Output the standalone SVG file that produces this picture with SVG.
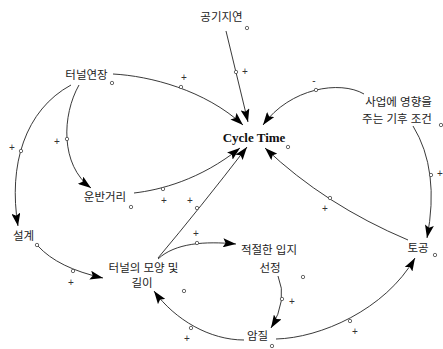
<svg xmlns="http://www.w3.org/2000/svg" width="443" height="349" viewBox="0 0 443 349">
<style>
.k{font-family:"Liberation Sans","Noto Sans CJK KR",sans-serif;font-size:11.5px;fill:#222;text-anchor:middle}
.ct{font-family:"Liberation Serif",serif;font-size:13px;font-weight:bold;fill:#111;text-anchor:middle}
.s{font-family:"Liberation Sans",sans-serif;font-size:10px;fill:#333;text-anchor:middle}
.e{fill:none;stroke:#222;stroke-width:0.9;marker-end:url(#ah)}
.c{fill:#fff;stroke:#444;stroke-width:0.8}
</style>
<defs>
<marker id="ah" markerUnits="userSpaceOnUse" markerWidth="14" markerHeight="9" refX="13" refY="4.5" orient="auto">
<path d="M0,0 L13,4.5 L0,9 L2.5,4.5 z" fill="#000"/>
</marker>
</defs>
<rect width="443" height="349" fill="#fff"/>
<g id="connectors">
<path class="e" d="M226,31 L248,122"/>
<path class="e" d="M113,74 C150,76 205,90 243,125"/>
<path class="e" d="M71,85 C25,110 8,165 18,226"/>
<path class="e" d="M79,85 C62,115 60,165 91,188"/>
<path class="e" d="M134,193 C160,190 200,180 240,148"/>
<path class="e" d="M158,258 Q200,208 247,147"/>
<path class="e" d="M38,246 Q58,268 103,278"/>
<path class="e" d="M158,259 C175,243 205,241 236,244"/>
<path class="e" d="M278,276 Q288,300 271,328"/>
<path class="e" d="M244,340 C210,340 175,320 154,291"/>
<path class="e" d="M276,339 C320,338 385,310 415,258"/>
<path class="e" d="M413,126 Q440,170 427,238"/>
<path class="e" d="M408,240 Q325,205 265,148"/>
<path class="e" d="M364,94 C340,80 290,88 263,125"/>
<g id="link-marks">
<circle class="c" cx="236" cy="72" r="1.7"/>
<circle class="c" cx="181" cy="87" r="1.7"/>
<circle class="c" cx="21" cy="151" r="1.7"/>
<circle class="c" cx="67" cy="139" r="1.7"/>
<circle class="c" cx="163" cy="189" r="1.7"/>
<circle class="c" cx="197" cy="208" r="1.7"/>
<circle class="c" cx="73" cy="271" r="1.7"/>
<circle class="c" cx="197" cy="243" r="1.7"/>
<circle class="c" cx="282" cy="299" r="1.7"/>
<circle class="c" cx="191" cy="328" r="1.7"/>
<circle class="c" cx="350" cy="321" r="1.7"/>
<circle class="c" cx="431" cy="175" r="1.7"/>
<circle class="c" cx="330" cy="198" r="1.7"/>
<circle class="c" cx="316" cy="90" r="1.7"/>
</g>
<g id="polarities">
<text class="s" x="245" y="75">+</text>
<text class="s" x="184" y="81">+</text>
<text class="s" x="12" y="151">+</text>
<text class="s" x="57" y="145">+</text>
<text class="s" x="164" y="204">+</text>
<text class="s" x="190" y="204">+</text>
<text class="s" x="71" y="286">+</text>
<text class="s" x="196" y="237">+</text>
<text class="s" x="292" y="305">+</text>
<text class="s" x="187" y="342">+</text>
<text class="s" x="355" y="335">+</text>
<text class="s" x="440" y="177">+</text>
<text class="s" x="325" y="212">+</text>
<text class="s" x="314" y="84">-</text>
</g>
</g>
<g id="n-gonggi">
<text class="k" x="221.5" y="21">공기지연</text>
<circle class="c" cx="247" cy="28" r="1.7"/>
</g>
<g id="n-tunnel-ext">
<text class="k" x="86.5" y="79">터널연장</text>
<circle class="c" cx="112" cy="83" r="1.7"/>
</g>
<g id="n-cycle">
<text class="ct" x="254" y="142">Cycle Time</text>
<circle class="c" cx="288" cy="147" r="1.7"/>
</g>
<g id="n-weather">
<text class="k" x="398.5" y="106">사업에 영향을</text>
<text class="k" x="397" y="123">주는 기후 조건</text>
<circle class="c" cx="441" cy="125" r="1.7"/>
</g>
<g id="n-haul">
<text class="k" x="105" y="201">운반거리</text>
<circle class="c" cx="131" cy="207" r="1.7"/>
</g>
<g id="n-design">
<text class="k" x="23.5" y="240">설계</text>
<circle class="c" cx="37" cy="245" r="1.7"/>
</g>
<g id="n-shape">
<text class="k" x="143.5" y="272">터널의 모양 및</text>
<text class="k" x="142" y="287">길이</text>
<circle class="c" cx="184" cy="291" r="1.7"/>
</g>
<g id="n-site">
<text class="k" x="269" y="254">적절한 입지</text>
<text class="k" x="270" y="272">선정</text>
<circle class="c" cx="303" cy="277" r="1.7"/>
</g>
<g id="n-earth">
<text class="k" x="418" y="252">토공</text>
<circle class="c" cx="435" cy="255" r="1.7"/>
</g>
<g id="n-rock">
<text class="k" x="257.5" y="340">암질</text>
<circle class="c" cx="272" cy="346" r="1.7"/>
</g>
</svg>
